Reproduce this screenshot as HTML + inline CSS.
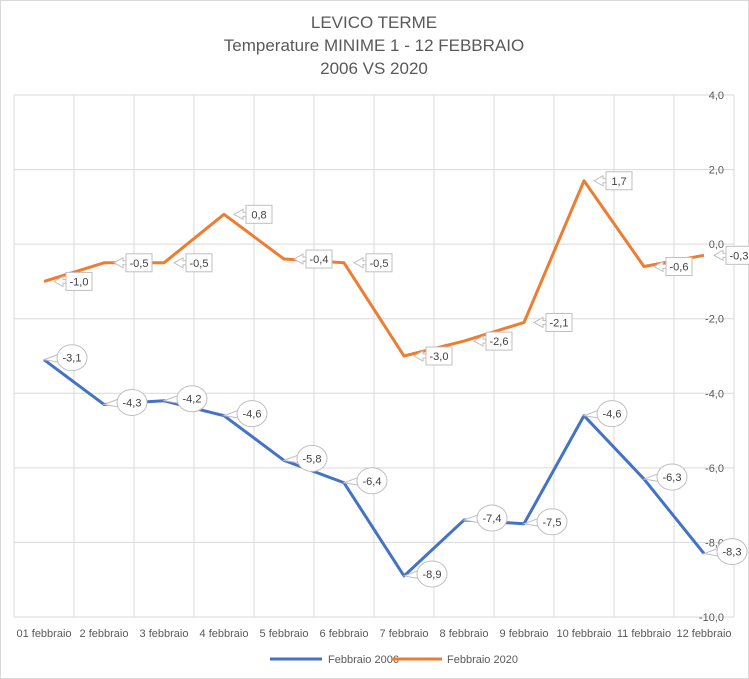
<!DOCTYPE html>
<html><head><meta charset="utf-8"><style>
body{margin:0;background:#fff}
svg{display:block;font-family:"Liberation Sans",sans-serif}
</style></head><body>
<svg id="c" width="749" height="679">
<rect x="0.5" y="0.5" width="748" height="678" fill="#fff" stroke="#d9d9d9"/>
<g fill="#595959" font-size="17" text-anchor="middle">
<text x="374" y="28">LEVICO TERME</text>
<text x="374" y="51">Temperature MINIME 1 - 12 FEBBRAIO</text>
<text x="374" y="74">2006 VS 2020</text>
</g>
<g id="grid"></g><g id="lines"></g><g id="labels"></g>
<g font-size="11" fill="#595959">
<line x1="270" y1="659" x2="322" y2="659" stroke="#4472c4" stroke-width="3"/>
<text x="328" y="663">Febbraio 2006</text>
<line x1="392" y1="659" x2="442" y2="659" stroke="#ed7d31" stroke-width="3"/>
<text x="447" y="663">Febbraio 2020</text>
</g>
</svg>
<script>
const categories=["01 febbraio","2 febbraio","3 febbraio","4 febbraio","5 febbraio","6 febbraio","7 febbraio","8 febbraio","9 febbraio","10 febbraio","11 febbraio","12 febbraio"];
const series2006=[-3.1,-4.3,-4.2,-4.6,-5.8,-6.4,-8.9,-7.4,-7.5,-4.6,-6.3,-8.3];
const series2020=[-1.0,-0.5,-0.5,0.8,-0.4,-0.5,-3.0,-2.6,-2.1,1.7,-0.6,-0.3];
const yTicks=[4,2,0,-2,-4,-6,-8,-10];
const NS="http://www.w3.org/2000/svg";
const L=14,R=734,T=95,B=617,yMax=4,yMin=-10;
const step=(R-L)/categories.length;
const X=i=>L+step*(i+0.5);
const Y=v=>T+(yMax-v)/(yMax-yMin)*(B-T);
const fmt=v=>v.toFixed(1).replace('.',',');
function mk(tag,a,p){const e=document.createElementNS(NS,tag);for(const k in a)e.setAttribute(k,a[k]);p.appendChild(e);return e;}
const grid=document.getElementById('grid'),lines=document.getElementById('lines'),labels=document.getElementById('labels');
yTicks.forEach(v=>{
 const l=mk('line',{x1:L,x2:R,y1:Y(v),y2:Y(v),stroke:'#d9d9d9'},grid);
 
 
 const t=mk('text',{x:724,y:Y(v)+4,'text-anchor':'end','font-size':11,fill:'#595959'},grid);
 t.textContent=fmt(v);
 
 
});
for(let i=0;i<=categories.length;i++){
 const l=mk('line',{x1:L+step*i,x2:L+step*i,y1:T,y2:B,stroke:'#d9d9d9'},grid);
 
 
}
categories.forEach((c,i)=>{
 const t=mk('text',{x:X(i),y:637,'text-anchor':'middle','font-size':11,fill:'#595959'},grid);
 t.textContent=c;
 
 
});
function drawLine(data,color,name){
 const p=mk('polyline',{points:data.map((v,i)=>X(i)+','+Y(v)).join(' '),fill:'none',stroke:color,'stroke-width':3,'stroke-linejoin':'round'},lines);
 
 
}
drawLine(series2006,'#4472c4','line-2006');
drawLine(series2020,'#ed7d31','line-2020');
series2006.forEach((v,i)=>{
 const x=X(i)+28,y=Y(v)-2;
 const g=mk('g',{},labels);
 
 
 mk('path',{d:`M${X(i)},${Y(v)} L${x-12},${y-4} L${x-10},${y+5} Z`,fill:'#fff',stroke:'#bfbfbf'},g);
 mk('ellipse',{cx:x,cy:y,rx:15,ry:13,fill:'#fff',stroke:'#bfbfbf'},g);
 const t=mk('text',{x:x,y:y+4,'text-anchor':'middle','font-size':11,fill:'#404040'},g);
 t.textContent=fmt(v);
});
series2020.forEach((v,i)=>{
 const x=X(i)+22,y=Y(v);
 const g=mk('g',{},labels);
 
 
 mk('path',{d:`M${X(i)+10},${y} L${x-3},${y-5} L${x-3},${y-2} L${x},${y-2} L${x},${y+2} L${x-3},${y+2} L${x-3},${y+5} Z`,fill:'#fff',stroke:'#bfbfbf'},g);
 mk('rect',{x:x,y:y-9,width:26,height:18,fill:'#fff',stroke:'#bfbfbf'},g);
 const t=mk('text',{x:x+13,y:y+4,'text-anchor':'middle','font-size':11,fill:'#404040'},g);
 t.textContent=fmt(v);
});
</script>
</body></html>
